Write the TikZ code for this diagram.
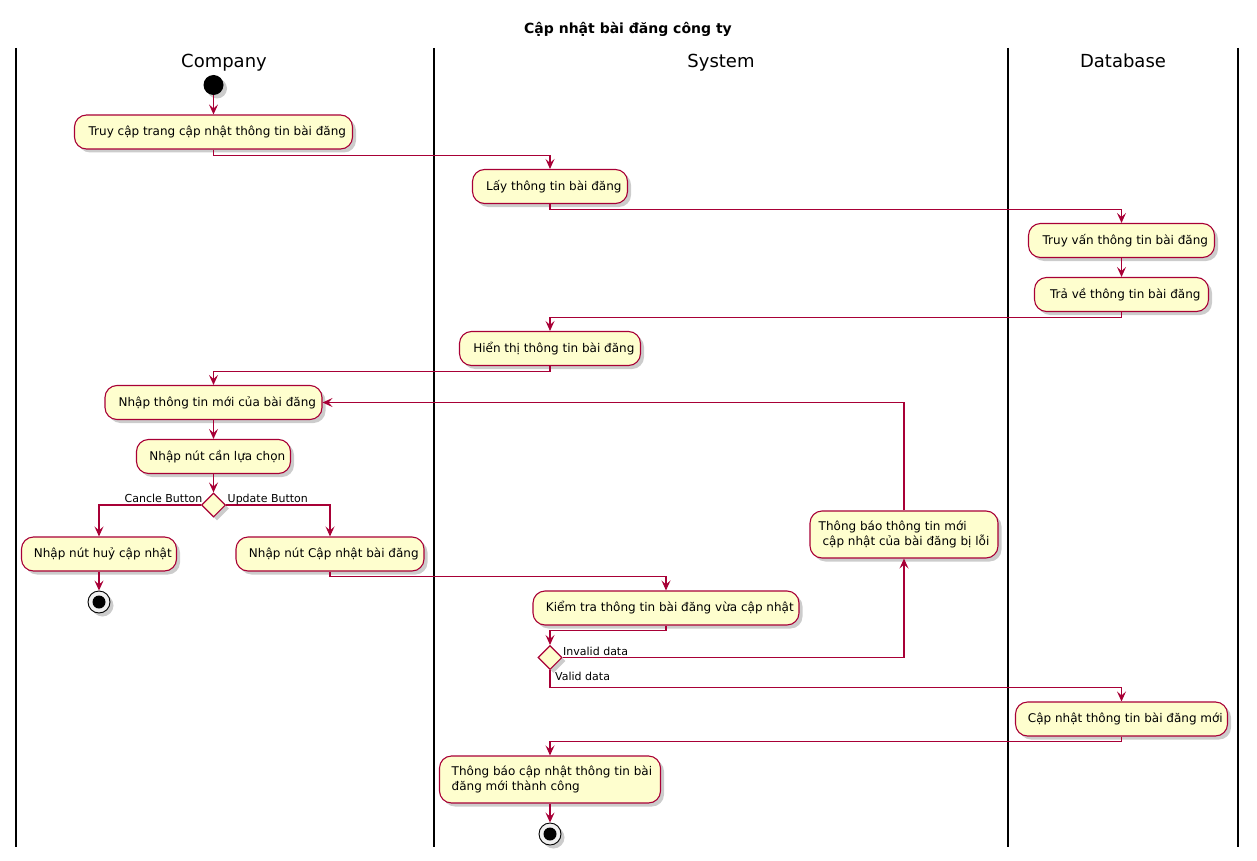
\documentclass[tikz,border=0pt]{standalone}
\usepackage{fontspec}
\setmainfont{DejaVu Sans}
\usetikzlibrary{arrows.meta,shapes.geometric,shadows}
\definecolor{actfill}{HTML}{FEFECE}
\definecolor{actline}{HTML}{A80036}
\tikzset{
  softshadow/.style={drop shadow={shadow xshift=3.5pt, shadow yshift=-3.5pt, opacity=0.4, fill=gray}},
  act/.style={draw=actline, line width=1.1pt, fill=actfill, rounded corners=12pt,
    minimum height=34pt, inner sep=0pt, font=\fontsize{12}{15}\selectfont, softshadow},
  decide/.style={draw=actline, line width=1.1pt, fill=actfill, diamond, aspect=1,
    minimum width=24pt, minimum height=24pt, inner sep=0pt, softshadow},
  startdot/.style={circle, fill=black, minimum size=20pt, inner sep=0pt, softshadow},
  stopring/.style={circle, draw=black, line width=0.9pt, fill=white!88!gray, minimum size=22pt, inner sep=0pt, softshadow},
  stopdot/.style={circle, fill=black, minimum size=13pt, inner sep=0pt},
  flow/.style={draw=actline, line width=1.1pt, -{Stealth[length=10pt,width=9pt,inset=4pt]}},
  lane/.style={draw=black, line width=1.6pt},
  lanetitle/.style={font=\fontsize{18}{20}\selectfont, anchor=base},
  guard/.style={font=\fontsize{11}{13}\selectfont, inner sep=0pt}
}
\begin{document}
\begin{tikzpicture}[x=1pt, y=-1pt]
\useasboundingbox (0,0) rectangle (1257,861);
% title
\node[font=\bfseries\fontsize{14}{16}\selectfont, anchor=base] (title) at (628,34) {Cập nhật bài đăng công ty};
% swimlane borders
\coordinate (l0t) at (16,48);   \coordinate (l0b) at (16,847);
\coordinate (l1t) at (434,48);  \coordinate (l1b) at (434,847);
\coordinate (l2t) at (1008,48); \coordinate (l2b) at (1008,847);
\coordinate (l3t) at (1238,48); \coordinate (l3b) at (1238,847);
\draw[lane] (l0t) -- (l0b);
\draw[lane] (l1t) -- (l1b);
\draw[lane] (l2t) -- (l2b);
\draw[lane] (l3t) -- (l3b);
\node[lanetitle] (hcompany) at (224,68) {Company};
\node[lanetitle] (hsystem) at (721,68) {System};
\node[lanetitle] (hdb) at (1123,68) {Database};

% activities
\node[startdot] (start) at (213.5,85) {};
\node[act, minimum width=278pt] (b1) at (213.5,132) {\ \ Truy cập trang cập nhật thông tin bài đăng};
\node[act, minimum width=155pt] (b2) at (550,186.5) {\ \ Lấy thông tin bài đăng};
\node[act, minimum width=186pt] (b3) at (1121.5,240.5) {\ \ Truy vấn thông tin bài đăng};
\node[act, minimum width=174pt] (b4) at (1121.5,294.5) {\ \ Trả về thông tin bài đăng};
\node[act, minimum width=181pt] (b5) at (550,348.5) {\ \ Hiển thị thông tin bài đăng};
\node[act, minimum width=217pt] (b6) at (213.5,402.5) {\ \ Nhập thông tin mới của bài đăng};
\node[act, minimum width=154pt] (b7) at (213.5,456.5) {\ \ Nhập nút cần lựa chọn};
\node[decide] (d1) at (213.5,505) {};
\node[act, minimum width=155pt] (b8) at (99,554) {\ \ Nhập nút huỷ cập nhật};
\node[act, minimum width=188pt] (b9) at (330,554) {\ \ Nhập nút Cập nhật bài đăng};
\node[stopring] (stop1) at (99,602) {};
\node[stopdot] (stop1c) at (stop1) {};
\node[act, minimum width=266pt] (b10) at (666,608) {\ \ Kiểm tra thông tin bài đăng vừa cập nhật};
\node[decide] (d2) at (550,657.5) {};
\node[act, minimum width=188pt, minimum height=47pt, align=left] (b11) at (904,534.5)
  {Thông báo thông tin mới\\\ cập nhật của bài đăng bị lỗi};
\node[act, minimum width=212pt] (b12) at (1121.5,719) {\ \ Cập nhật thông tin bài đăng mới};
\node[act, minimum width=221pt, minimum height=47pt, align=left] (b13) at (550,779.5)
  {\ Thông báo cập nhật thông tin bài\\\ đăng mới thành công};
\node[stopring] (stop2) at (550,834) {};
\node[stopdot] (stop2c) at (stop2) {};

% control flow
\draw[flow] (start) -- (b1);
\draw[flow] (b1.south) -- ++(0,6) -| (b2.north);
\draw[flow] (b2.south) -- ++(0,5) -| (b3.north);
\draw[flow] (b3) -- (b4);
\draw[flow] (b4.south) -- ++(0,5) -| (b5.north);
\draw[flow] (b5.south) -- ++(0,5) -| (b6.north);
\draw[flow] (b6) -- (b7);
\draw[flow] (b7) -- (d1);
\draw[flow] (d1.west) -| (b8.north);
\draw[flow] (d1.east) -| (b9.north);
\node[guard, anchor=base east] (gcancel) at (202.5,502) {Cancle Button};
\node[guard, anchor=base west] (gupdate) at (227.5,502) {Update Button};
\draw[flow] (b8) -- (stop1);
\draw[flow] (b9.south) -- ++(0,5) -| (b10.north);
\draw[flow] (b10.south) -- ++(0,5) -| (d2.north);
\draw[flow] (d2.east) -| (b11.south);
\node[guard, anchor=base west] (ginvalid) at (563,655) {Invalid data};
\draw[flow] (b11.north) |- (b6.east);
\draw[flow] (d2.south) -- ++(0,17) -| (b12.north);
\node[guard, anchor=base west] (gvalid) at (555,680) {Valid data};
\draw[flow] (b12.south) -- ++(0,5) -| (b13.north);
\draw[flow] (b13) -- (stop2);
\end{tikzpicture}
\end{document}
